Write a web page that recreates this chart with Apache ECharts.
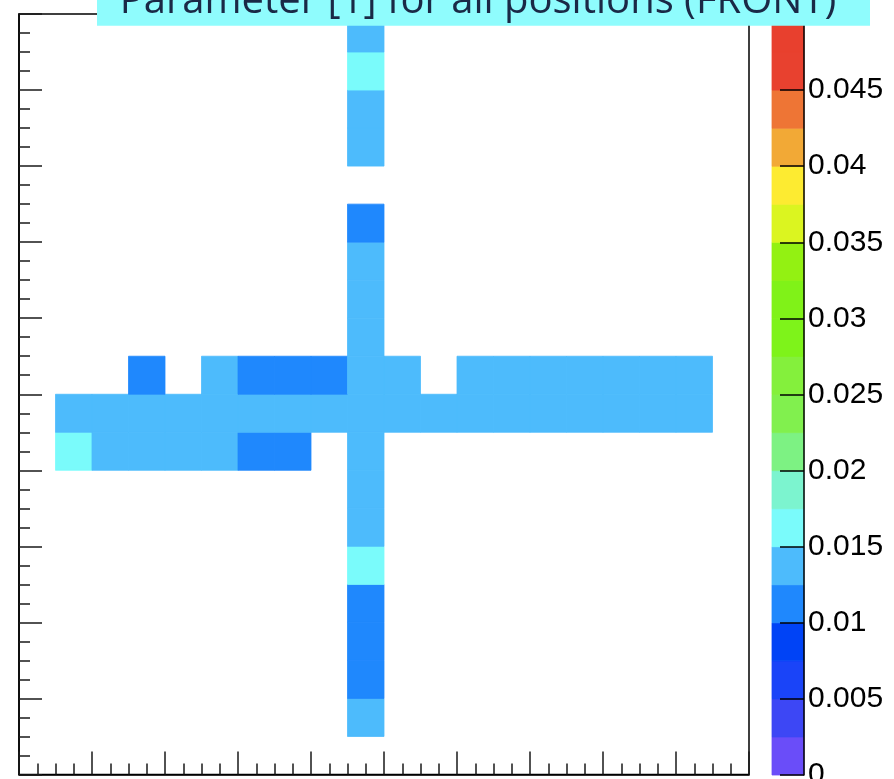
<!DOCTYPE html>
<html>
<head>
<meta charset="utf-8">
<script src="https://cdn.jsdelivr.net/npm/echarts@6/dist/echarts.min.js"></script>
<style>
html,body{margin:0;padding:0;background:#fff;}
#chart{width:894px;height:779px;}
</style>
</head>
<body>
<div id="chart"></div>
<script>
const titleText = 'Parameter [1] for all positions (FRONT)';

// Filled bins of the 20 x 20 histogram (bin index along x, bin index along y, content)
const cellX = [
  1, 2, 3, 4, 5, 6, 7,
  1, 2, 3, 4, 5, 6, 7, 8, 9, 10, 11, 12, 13, 14, 15, 16, 17, 18,
  3, 5, 6, 7, 8, 10, 12, 13, 14, 15, 16, 17, 18,
  9, 9, 9, 9, 9, 9, 9, 9, 9, 9, 9, 9, 9, 9, 9, 9, 9
];
const cellY = [
  8, 8, 8, 8, 8, 8, 8,
  9, 9, 9, 9, 9, 9, 9, 9, 9, 9, 9, 9, 9, 9, 9, 9, 9, 9,
  10, 10, 10, 10, 10, 10, 10, 10, 10, 10, 10, 10, 10,
  1, 2, 3, 4, 5, 6, 7, 8, 10, 11, 12, 13, 14, 16, 17, 18, 19
];
const cellValue = [
  0.0160, 0.0138, 0.0140, 0.0139, 0.0141, 0.0112, 0.0115,
  0.0140, 0.0139, 0.0141, 0.0138, 0.0140, 0.0142, 0.0139, 0.0140, 0.0141, 0.0138, 0.0140, 0.0139, 0.0141, 0.0140, 0.0138, 0.0139, 0.0140, 0.0141,
  0.0113, 0.0139, 0.0114, 0.0112, 0.0115, 0.0140, 0.0139, 0.0141, 0.0138, 0.0140, 0.0139, 0.0141, 0.0140,
  0.0139, 0.0113, 0.0114, 0.0112, 0.0162, 0.0140, 0.0141, 0.0139, 0.0140, 0.0138, 0.0141, 0.0139, 0.0114, 0.0140, 0.0139, 0.0161, 0.0140
];

// Palette levels (z axis) and colours of each band
const paletteLevels = [0, 0.0025, 0.005, 0.0075, 0.01, 0.0125, 0.015, 0.0175, 0.02, 0.0225,
  0.025, 0.0275, 0.03, 0.0325, 0.035, 0.0375, 0.04, 0.0425, 0.045, 0.0475, 0.05];
const paletteColors = ['#6a4df9', '#3d47f5', '#1a44f8', '#0043f6', '#1f88fd', '#4dbbfc', '#7afbfb',
  '#7cf4cf', '#7df283', '#81f04e', '#84f03c', '#7ef31a', '#80f218', '#93f112', '#dbf520',
  '#fdeb31', '#f2a936', '#ee7535', '#e8412f', '#e8402e'];

const nBinsX = 20, nBinsY = 20;

const cellData = cellX.map((x, i) => [x, cellY[i], cellValue[i]]);
const bandData = paletteColors.map((c, i) => [paletteLevels[i], paletteLevels[i + 1], i]);

const pieces = paletteColors.map((c, i) => ({ gte: paletteLevels[i], lt: paletteLevels[i + 1], color: c }));

const tickStyle = { color: '#1a1a1a', width: 1.5 };

const chart = echarts.init(document.getElementById('chart'), null, { renderer: 'canvas' });
chart.setOption({
  animation: false,
  backgroundColor: '#ffffff',
  grid: [
    { left: 19, right: 145, top: 14, bottom: 4.5, show: true, borderColor: '#000', borderWidth: 1.5, backgroundColor: 'transparent', containLabel: false, outerBoundsMode: 'none' },
    { left: 772, right: 90, top: 14, bottom: 4, show: false, containLabel: false, outerBoundsMode: 'none' }
  ],
  xAxis: [
    { gridIndex: 0, type: 'value', min: 0, max: nBinsX, interval: 2,
      axisLine: { show: true, lineStyle: { color: '#000', width: 1.5 } },
      axisTick: { show: true, inside: true, length: 23, lineStyle: tickStyle },
      minorTick: { show: true, splitNumber: 4, length: 11, lineStyle: tickStyle },
      axisLabel: { show: false }, splitLine: { show: false }, minorSplitLine: { show: false } },
    { gridIndex: 1, type: 'value', min: 0, max: 1, show: false }
  ],
  yAxis: [
    { gridIndex: 0, type: 'value', min: 0, max: nBinsY, interval: 2,
      axisLine: { show: true, lineStyle: { color: '#000', width: 1.5 } },
      axisTick: { show: true, inside: true, length: 23, lineStyle: tickStyle },
      minorTick: { show: true, splitNumber: 4, length: 11, lineStyle: tickStyle },
      axisLabel: { show: false }, splitLine: { show: false }, minorSplitLine: { show: false } },
    { gridIndex: 1, type: 'value', min: 0, max: 0.05, interval: 0.005, position: 'right', z: 10,
      axisLine: { show: true, onZero: false, lineStyle: { color: '#000', width: 1.5 } },
      axisTick: { show: true, inside: true, length: 24, lineStyle: { color: '#000', width: 1.5 } },
      axisLabel: { show: true, inside: false, margin: 4, color: '#000', fontSize: 30, fontFamily: 'Liberation Sans, Arial, sans-serif',
        showMinLabel: true, showMaxLabel: true, hideOverlap: false },
      splitLine: { show: false } }
  ],
  visualMap: {
    type: 'piecewise', show: false, seriesIndex: 0, dimension: 2, pieces: pieces
  },
  series: [
    {
      type: 'custom', xAxisIndex: 0, yAxisIndex: 0, data: cellData, z: 1,
      renderItem: function (params, api) {
        const p0 = api.coord([api.value(0), api.value(1) + 1]);
        const p1 = api.coord([api.value(0) + 1, api.value(1)]);
        const c = api.visual('color');
        return { type: 'rect', shape: { x: p0[0], y: p0[1], width: p1[0] - p0[0], height: p1[1] - p0[1] },
          style: { fill: c, stroke: c, lineWidth: 0.8 } };
      }
    },
    {
      type: 'custom', xAxisIndex: 1, yAxisIndex: 1, data: bandData, z: 1,
      renderItem: function (params, api) {
        const p0 = api.coord([0, api.value(1)]);
        const p1 = api.coord([1, api.value(0)]);
        const c = paletteColors[api.value(2)];
        return { type: 'rect', shape: { x: p0[0], y: p0[1], width: p1[0] - p0[0], height: p1[1] - p0[1] },
          style: { fill: c, stroke: c, lineWidth: 0.8 } };
      }
    }
  ],
  graphic: [
    { type: 'rect', z: 100, shape: { x: 97, y: -20, width: 773, height: 45.7 }, style: { fill: '#8ffcfd' } },
    { type: 'text', z: 101, x: 478, y: 2, style: { text: titleText, fill: '#1a2946', font: '40px "Open Sans"', align: 'center', verticalAlign: 'middle' } }
  ]
});
</script>
</body>
</html>
